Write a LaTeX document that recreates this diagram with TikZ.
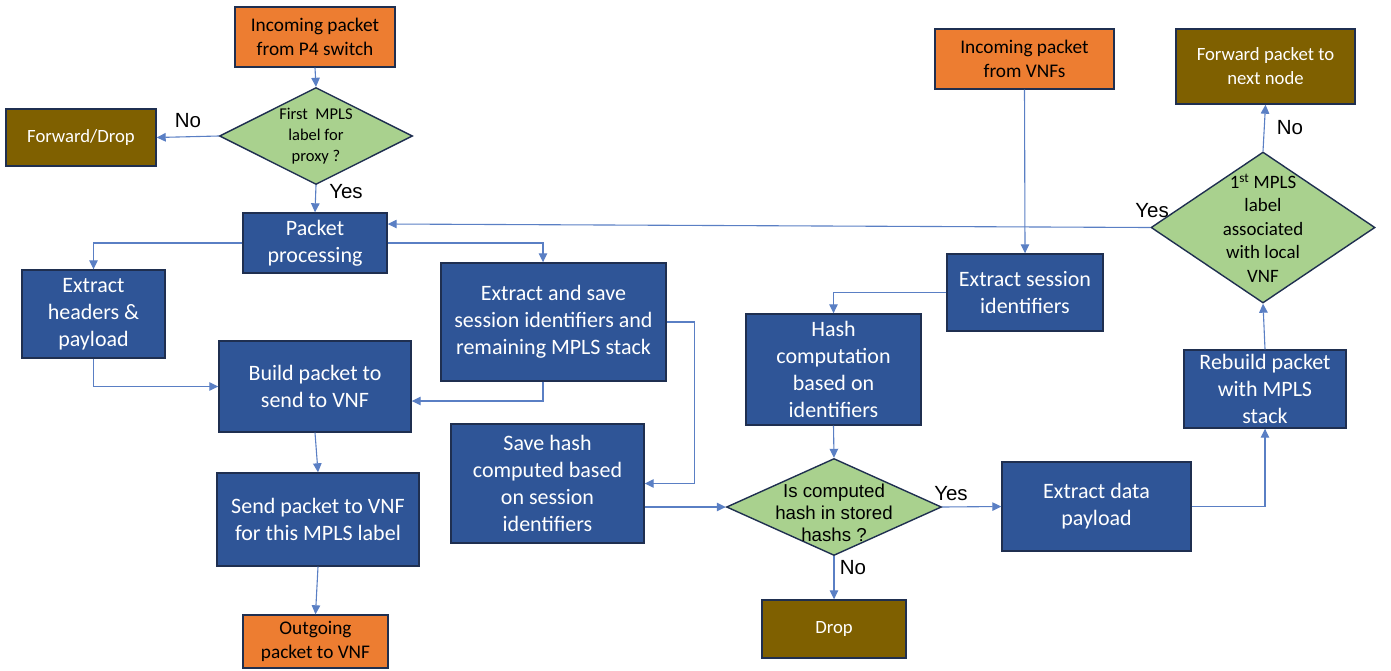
\documentclass[tikz,border=0pt]{standalone}
\usepackage{fontspec}
\setmainfont{Carlito}
\newfontfamily\arialf{Liberation Sans}
\usetikzlibrary{arrows.meta,shapes.geometric}
\definecolor{cOrange}{HTML}{ED7D31}
\definecolor{cBlue}{HTML}{2F5597}
\definecolor{cBrown}{HTML}{7F6000}
\definecolor{cGreen}{HTML}{A9D18E}
\definecolor{cEdge}{HTML}{1F2F50}
\definecolor{cLine}{HTML}{5A7FC4}
\tikzset{
  box/.style={draw=cEdge, line width=1.4pt, rectangle, inner sep=0pt, align=center},
  bluebox/.style={box, fill=cBlue, text=white, font=\fontsize{22}{27}\selectfont},
  orangebox/.style={box, fill=cOrange, text=black, font=\fontsize{19.3}{24}\selectfont},
  brownbox/.style={box, fill=cBrown, text=white, font=\fontsize{18.7}{24}\selectfont},
  greendia/.style={draw=cEdge, line width=1.4pt, diamond, fill=cGreen, inner sep=0pt},
  diatext/.style={align=center, text=black, inner sep=0pt},
  lbl/.style={font=\arialf\fontsize{20.5}{24}\selectfont, text=black, inner sep=0pt},
  conn/.style={draw=cLine, line width=1.1pt, -{Triangle[length=9pt,width=8.5pt]}},
}
\begin{document}
\begin{tikzpicture}[x=1pt,y=-1pt]
\path[use as bounding box] (0,0) rectangle (1391,670);

% left column: packets coming from the P4 switch
\node[orangebox, minimum width=160pt, minimum height=60pt] (p4) at (315,37) {Incoming packet\\from P4 switch};
\node[greendia, minimum width=193pt, minimum height=97pt] (d1) at (316,136) {};
\node[diatext, font=\fontsize{16.5}{21}\selectfont] (d1t) at (316,136) {First\ \ MPLS\\label for\\proxy ?};
\node[brownbox, minimum width=150pt, minimum height=57pt] (fd) at (81,137.5) {Forward/Drop};
\node[bluebox, minimum width=144pt, minimum height=60pt] (pp) at (315,243) {Packet\\processing};
\node[bluebox, minimum width=143pt, minimum height=88pt] (eh) at (93.5,314) {Extract\\headers \&\\payload};
\node[bluebox, minimum width=225pt, minimum height=118pt] (es) at (553.5,322) {Extract and save\\session identifiers and\\remaining MPLS stack};
\node[bluebox, minimum width=192pt, minimum height=91pt] (bp) at (315,386.5) {Build packet to\\send to VNF};
\node[bluebox, minimum width=202pt, minimum height=93pt] (sp) at (318,519.5) {Send packet to VNF\\for this MPLS label};
\node[orangebox, minimum width=145pt, minimum height=53pt] (out) at (315.5,641.5) {Outgoing\\packet to VNF};
\node[bluebox, minimum width=193pt, minimum height=119pt] (sh) at (547.5,483.5) {Save hash\\computed based\\on session\\identifiers};

% right part: packets coming back from the VNFs
\node[orangebox, minimum width=179pt, minimum height=60pt] (inv) at (1024.5,59) {Incoming packet\\from VNFs};
\node[bluebox, minimum width=156pt, minimum height=77pt] (esi) at (1025,292.5) {Extract session\\identifiers};
\node[bluebox, minimum width=175pt, minimum height=111pt] (hc) at (833.5,369.5) {Hash\\computation\\based on\\identifiers};
\node[greendia, minimum width=215pt, minimum height=97pt] (d2) at (834,507) {};
\node[diatext, font=\arialf\fontsize{18.7}{22}\selectfont] (d2t) at (834,513) {Is computed\\hash in stored\\hashs ?};
\node[bluebox, minimum width=189pt, minimum height=89pt] (ed) at (1096.5,506.5) {Extract data\\payload};
\node[brownbox, minimum width=144pt, minimum height=58pt] (drop) at (834,629) {Drop};
\node[bluebox, minimum width=162pt, minimum height=78pt] (rb) at (1265,389) {Rebuild packet\\with MPLS\\stack};
\node[greendia, minimum width=224pt, minimum height=151pt] (d3) at (1263,227.5) {};
\node[diatext, font=\fontsize{18.9}{23.5}\selectfont] (d3t) at (1263,228) {1\textsuperscript{st} MPLS\\label\\associated\\with local\\VNF};
\node[brownbox, minimum width=179pt, minimum height=75pt] (fn) at (1265.5,66.5) {Forward packet to\\next node};

% decision labels
\node[lbl] (no1) at (188,121) {No};
\node[lbl] (yes1) at (346,192) {Yes};
\node[lbl] (yes3) at (1152,211) {Yes};
\node[lbl] (yes2) at (951,494) {Yes};
\node[lbl] (no2) at (853,568) {No};
\node[lbl] (no3) at (1290,128) {No};

% connectors
\draw[conn] (p4.south) -- (d1.north);
\draw[conn] (d1.west) -- (fd.east);
\draw[conn] (d1.south) -- (pp.north);
\draw[conn] (d3.west) -- ([yshift=19pt]pp.east);
\draw[conn] (pp.west) -| (eh.north);
\draw[conn] (pp.east) -| ([xshift=-10.5pt]es.north);
\draw[conn] (eh.south) |- (bp.west);
\draw[conn] ([xshift=-10.5pt]es.south) |- ([yshift=-14.5pt]bp.east);
\draw[conn] (es.east) -- ++(28,0) |- (sh.east);
\draw[conn] (bp.south) -- (sp.north);
\draw[conn] (sp.south) -- (out.north);
\draw[conn] ([yshift=-23.5pt]sh.east) -- (d2.west);
\draw[conn] (inv.south) -- (esi.north);
\draw[conn] (esi.west) -| (hc.north);
\draw[conn] (hc.south) -- (d2.north);
\draw[conn] (d2.east) -- (ed.west);
\draw[conn] (d2.south) -- (drop.north);
\draw[conn] (ed.east) -| (rb.south);
\draw[conn] (rb.north) -- (d3.south);
\draw[conn] (d3.north) -- (fn.south);
\end{tikzpicture}
\end{document}
